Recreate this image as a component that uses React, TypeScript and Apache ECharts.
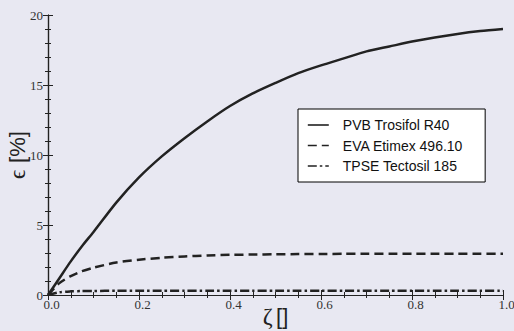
import React, { useEffect, useRef } from "react";
import * as echarts from "echarts";

const zeta = [0, 0.025, 0.05, 0.075, 0.1, 0.15, 0.2, 0.25, 0.3, 0.35, 0.4, 0.45, 0.5, 0.55, 0.6, 0.65, 0.7, 0.75, 0.8, 0.85, 0.9, 0.95, 1.0];
const pvb = [0, 1.2, 2.4, 3.5, 4.5, 6.6, 8.4, 9.9, 11.2, 12.4, 13.5, 14.4, 15.15, 15.85, 16.4, 16.9, 17.4, 17.75, 18.1, 18.4, 18.65, 18.85, 19.0];
const eva = [0, 0.85, 1.35, 1.7, 1.95, 2.32, 2.52, 2.66, 2.75, 2.83, 2.87, 2.89, 2.91, 2.92, 2.93, 2.94, 2.94, 2.95, 2.95, 2.95, 2.95, 2.95, 2.95];
const tpse = [0, 0.2, 0.26, 0.28, 0.29, 0.3, 0.3, 0.3, 0.3, 0.3, 0.3, 0.3, 0.3, 0.3, 0.3, 0.3, 0.3, 0.3, 0.3, 0.3, 0.3, 0.3, 0.3];
const seriesNames = ["PVB Trosifol R40", "EVA Etimex 496.10", "TPSE Tectosil 185"];
const yTicks = { min: 0, max: 20, interval: 5 };
const xTicks = { min: 0, max: 1, interval: 0.2 };

const BG = "#e8e8f2";
const INK = "#222222";

export default function App() {
  const ref = useRef<HTMLDivElement>(null);
  useEffect(() => {
    document.body.style.margin = "0";
    document.body.style.background = BG;
    const chart = echarts.init(ref.current!, undefined, { renderer: "svg" });
    const pair = (ys: number[]) => zeta.map((z, i) => [z, ys[i]]);
    const axisLine = { show: true, lineStyle: { color: INK, width: 1.2 } };
    const tick = { show: true, inside: true, length: 5, lineStyle: { color: INK, width: 1 } };
    const minor = (n: number) => ({ show: true, splitNumber: n, length: 3, lineStyle: { color: INK, width: 1 } });
    const labelFont = { fontFamily: "Liberation Serif", fontSize: 13, color: "#333" };
    const xBase = {
      type: "value" as const,
      ...xTicks,
      axisLine,
      axisTick: tick,
      minorTick: minor(4),
      splitLine: { show: false },
      minorSplitLine: { show: false },
    };
    const yBase = {
      type: "value" as const,
      ...yTicks,
      axisLine,
      axisTick: tick,
      minorTick: minor(5),
      splitLine: { show: false },
      minorSplitLine: { show: false },
    };
    const lineSeries = (name: string, ys: number[], type: any) => ({
      name,
      type: "line",
      data: pair(ys),
      showSymbol: false,
      symbol: "none",
      smooth: 0.25,
      lineStyle: { color: INK, width: 2.5, type },
      itemStyle: { color: INK },
      z: 3,
    });
    chart.setOption({
      animation: false,
      backgroundColor: BG,
      grid: { left: 48, right: 11, top: 15, bottom: 36, containLabel: false, outerBoundsMode: "none" },
      xAxis: [
        {
          ...xBase,
          position: "bottom",
          axisLabel: {
            ...labelFont,
            margin: 3,
            lineHeight: 13,
            verticalAlign: "top",
            padding: [0, 0, 0, 7],
            formatter: (v: number) => v.toFixed(1),
          },
          name: "{z|ζ} {b|[]}",
          nameLocation: "middle",
          nameGap: 9,
          nameMoveOverlap: false,
          nameTextStyle: {
            verticalAlign: "top",
            lineHeight: 24,
            rich: {
              z: { fontFamily: "Liberation Serif", fontSize: 24, color: INK, lineHeight: 24 },
              b: { fontFamily: "Liberation Sans", fontSize: 22, color: INK, lineHeight: 24 },
            },
          },
        },
        { ...xBase, position: "top", axisLabel: { show: false } },
      ],
      yAxis: [
        {
          ...yBase,
          position: "left",
          axisLabel: { ...labelFont, margin: 5, lineHeight: 13, verticalAlign: "middle", padding: [0, 0, 3, 0] },
          name: "{e|ϵ}  {b|[%]}",
          nameLocation: "middle",
          nameGap: 19,
          nameRotate: 90,
          nameMoveOverlap: false,
          nameTextStyle: {
            lineHeight: 24,
            rich: {
              e: { fontFamily: "Liberation Serif", fontSize: 23, color: INK, lineHeight: 24 },
              b: { fontFamily: "Liberation Sans", fontSize: 22, color: INK, lineHeight: 24 },
            },
          },
        },
        { ...yBase, position: "right", axisLabel: { show: false } },
      ],
      legend: {
        data: seriesNames,
        orient: "vertical",
        left: 298,
        top: 109,
        backgroundColor: "#ffffff",
        borderColor: "#000000",
        borderWidth: 1,
        borderRadius: 0,
        padding: [9, 22, 9, 9],
        itemWidth: 21,
        itemHeight: 14,
        itemGap: 6.5,
        itemStyle: { color: "rgba(0,0,0,0)", borderColor: "rgba(0,0,0,0)", borderWidth: 0 },
        lineStyle: { width: 1.6 },
        textStyle: { fontFamily: "Liberation Sans", fontSize: 14, color: "#111", padding: [0, 0, 0, 9] },
      },
      series: [
        lineSeries(seriesNames[0], pvb, "solid"),
        lineSeries(seriesNames[1], eva, [9, 5]),
        lineSeries(seriesNames[2], tpse, [9, 3, 2.5, 3]),
      ],
    });
    return () => chart.dispose();
  }, []);
  return <div ref={ref} style={{ width: 514, height: 331 }} />;
}
